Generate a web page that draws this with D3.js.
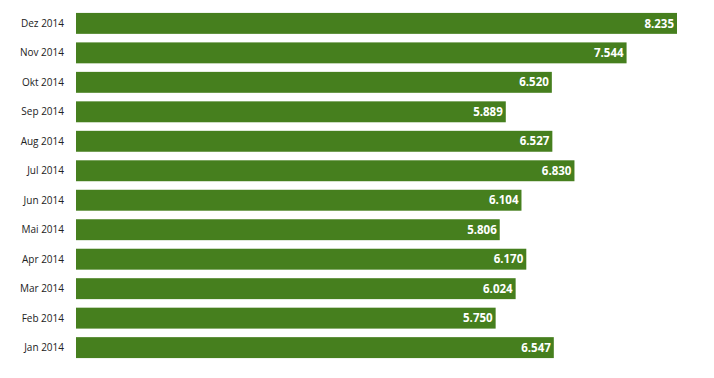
<!DOCTYPE html>
<html lang="de">
<head>
  <meta charset="UTF-8" />
  <title>Monatswerte 2014</title>
  <script src="https://d3js.org/d3.v7.min.js"></script>
  <style>
    body { margin: 0; background: #fff; font-family: "Open Sans", Lato, sans-serif; }
    .cat { font-size: 10px; fill: #222; }
    .val { font-size: 11.5px; font-weight: bold; fill: #fff; }
  </style>
</head>
<body>
  <svg id="chart" width="714" height="378"></svg>
  <script>
    const months = ["Dez 2014", "Nov 2014", "Okt 2014", "Sep 2014", "Aug 2014", "Jul 2014",
                    "Jun 2014", "Mai 2014", "Apr 2014", "Mar 2014", "Feb 2014", "Jan 2014"];
    const values = [8235, 7544, 6520, 5889, 6527, 6830, 6104, 5806, 6170, 6024, 5750, 6547];

    const width = 714, height = 378;
    const margin = { top: 8.5, right: 37, bottom: 15.5, left: 76 };

    const svg = d3.select("#chart");
    const fmt = d3.formatLocale({ decimal: ",", thousands: ".", grouping: [3], currency: ["", "€"] }).format(",d");

    const x = d3.scaleLinear()
      .domain([0, d3.max(values)])
      .range([margin.left, width - margin.right]);

    const y = d3.scaleBand()
      .domain(months)
      .range([margin.top, height - margin.bottom])
      .paddingInner(0.29)
      .paddingOuter(0.15);

    const rows = svg.append("g")
      .selectAll("g")
      .data(months.map((m, i) => ({ m, v: values[i] })))
      .join("g");

    rows.append("rect")
      .attr("x", x(0))
      .attr("y", d => y(d.m))
      .attr("width", d => x(d.v) - x(0))
      .attr("height", y.bandwidth())
      .attr("fill", "#467f1e");

    rows.append("text")
      .attr("class", "cat")
      .attr("x", 64)
      .attr("y", d => y(d.m) + y.bandwidth() / 2)
      .attr("dy", "0.35em")
      .attr("text-anchor", "end")
      .text(d => d.m);

    rows.append("text")
      .attr("class", "val")
      .attr("x", d => x(d.v) - 3)
      .attr("y", d => y(d.m) + y.bandwidth() / 2)
      .attr("dy", "0.36em")
      .attr("text-anchor", "end")
      .text(d => fmt(d.v));
  </script>
</body>
</html>
